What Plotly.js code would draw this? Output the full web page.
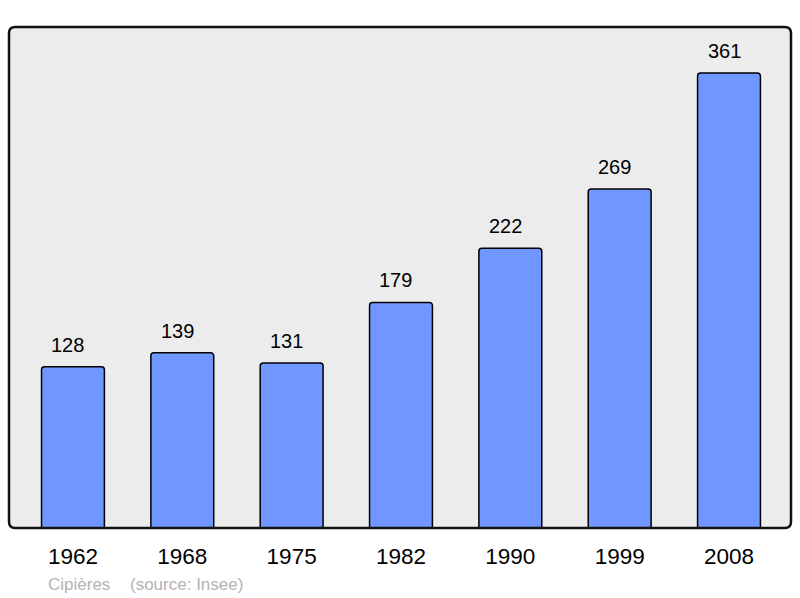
<!DOCTYPE html>
<html><head><meta charset="utf-8">
<script src="https://cdn.plot.ly/plotly-3.0.1.min.js"></script>
<style>body{margin:0;background:#fff}#c{width:800px;height:598px}</style>
</head><body><div id="c"></div>
<script>
const years = ["1962","1968","1975","1982","1990","1999","2008"];
const population = [128,139,131,179,222,269,361];
const commune = "Cipières";
const source = "(source: Insee)";

const xs = years.map((_, i) => i);
const W = 800, H = 598, L = 9, R = 9, T = 27, B = 70;
const FONT = "Liberation Sans, Arial";
const trace = {
  type: "bar", x: xs, y: population, width: 0.575,
  marker: {color: "#7097ff", line: {color: "#000", width: 1.5}, cornerradius: 3},
  hoverinfo: "none"
};
const ann = population.map((v, i) => ({
  x: i, y: v, xref: "x", yref: "y", text: String(v), showarrow: false,
  yanchor: "bottom", yshift: 9, xshift: -5, font: {family: FONT, size: 20, color: "#000"}
}));
const fy = -(584 - (H - B)) / (H - T - B);
ann.push({xref: "paper", yref: "paper", x: (49 - L) / (W - L - R), y: fy, xshift: -3,
  xanchor: "left", yanchor: "middle", text: commune, showarrow: false,
  font: {family: FONT, size: 17, color: "#b3b3b3"}});
ann.push({xref: "paper", yref: "paper", x: (131 - L) / (W - L - R), y: fy, xshift: -3,
  xanchor: "left", yanchor: "middle", text: source, showarrow: false,
  font: {family: FONT, size: 17, color: "#b3b3b3"}});

const r = 0.008, ry = r * (W - L - R) / (H - T - B);
const path = `M ${r},0 L ${1-r},0 Q 1,0 1,${ry} L 1,${1-ry} Q 1,1 ${1-r},1 L ${r},1 Q 0,1 0,${1-ry} L 0,${ry} Q 0,0 ${r},0 Z`;

const layout = {
  width: W, height: H,
  margin: {l: L, r: R, t: T, b: B, pad: 0},
  paper_bgcolor: "#fff", plot_bgcolor: "#ececec",
  showlegend: false,
  xaxis: {range: [-0.585, 6.567], tickvals: xs, ticktext: years, showgrid: false, zeroline: false,
    showline: false, ticks: "", ticklabelstandoff: 12, fixedrange: true,
    tickfont: {family: FONT, size: 22.5, color: "#000"}},
  yaxis: {range: [0, 397.5], showgrid: false, zeroline: false, showticklabels: false, showline: false, ticks: ""},
  annotations: ann,
  shapes: [{type: "path", xref: "paper", yref: "paper", path: path, line: {color: "#111", width: 2.5}, layer: "above"}]
};
Plotly.newPlot("c", [trace], layout, {staticPlot: true});
</script></body></html>
